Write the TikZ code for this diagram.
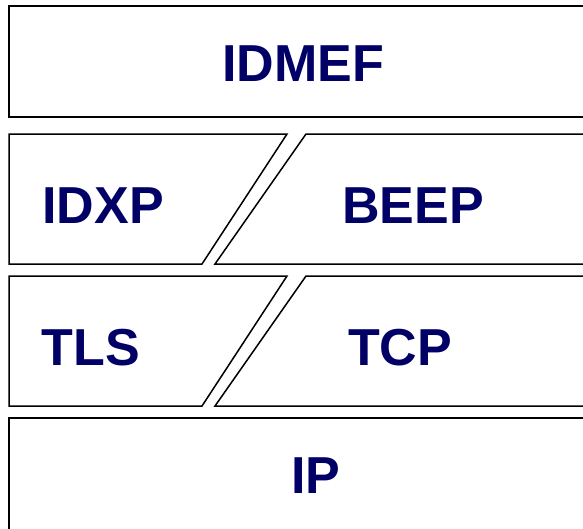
\documentclass[tikz,border=0pt]{standalone}
\usepackage{fontspec}
\setmainfont{Liberation Sans}
\definecolor{protoblue}{RGB}{0,0,102}
\tikzstyle{layer}=[draw,line width=1.5pt,line join=miter]
\tikzstyle{proto}=[font=\fontsize{52}{52}\selectfont\bfseries,text=protoblue,inner sep=0pt]

\begin{document}
\begin{tikzpicture}[x=1pt,y=-1pt]
  \clip (0,0) rectangle (583,528);

  % full width layers
  \foreach \top/\bot in {6/117, 418/540}
      \path[layer] (9,\top) rectangle (600,\bot);

  % split layers
  \foreach \top/\bot in {134/264, 276/406} {
      \path[layer] (9,\top) -- (287,\top) -- (202,\bot) -- (9,\bot) -- cycle;
      \path[layer] (306,\top) -- (600,\top) -- (600,\bot) -- (215,\bot) -- cycle;
  }

  \foreach \pos/\name/\txt in {{(303,64)/idmef/IDMEF}, {(103,206)/idxp/IDXP}, {(413,206)/beep/BEEP},
                               {(91,348)/tls/TLS}, {(400,348)/tcp/TCP}, {(316,476)/ip/IP}}
      \node[proto] (\name) at \pos {\txt};
\end{tikzpicture}
\end{document}
